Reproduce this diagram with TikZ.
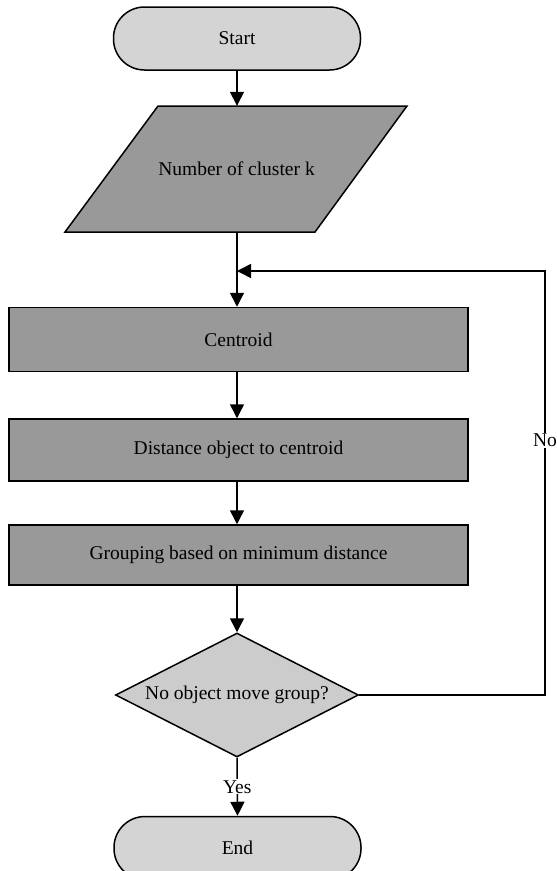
\documentclass[tikz,border=0pt]{standalone}
\usepackage{fontspec}
\setmainfont{Liberation Serif}
\usetikzlibrary{arrows.meta,shapes.geometric}
\definecolor{termgray}{gray}{0.83}
\definecolor{boxgray}{gray}{0.60}
\definecolor{decgray}{gray}{0.80}
\tikzset{
  terminal/.style={draw, line width=1.5pt, fill=termgray, rounded corners=31pt,
    minimum width=247pt, minimum height=63pt, inner sep=0pt},
  iofill/.style={draw, line width=1.5pt, fill=boxgray},
  procbox/.style={draw, line width=1.5pt, fill=boxgray, minimum width=459pt, inner sep=0pt},
  decision/.style={draw, line width=1.5pt, fill=decgray, shape=diamond, aspect=2,
    minimum width=243pt, minimum height=124pt, inner sep=0pt},
  flow/.style={line width=1.5pt, -{Triangle[width=14pt,length=14pt]}},
  lbl/.style={fill=white, inner sep=1pt}
}
\begin{document}
\begin{tikzpicture}[x=1pt, y=-1pt, font=\fontsize{19.5}{22}\selectfont]
  \useasboundingbox (0,0) rectangle (557,871);
  \node[terminal] (start) at (237,38.5) {Start};
  % input parallelogram
  \draw[iofill] (158,106) -- (407,106) -- (315,232) -- (65,232) -- cycle;
  \node[minimum height=126pt, inner sep=0pt] (input) at (236.5,169) {Number of cluster k};
  \node[procbox, minimum height=64pt] (centroid) at (238.5,339.5) {Centroid};
  \node[procbox, minimum height=62pt] (dist) at (238.5,450) {Distance object to centroid};
  \node[procbox, minimum height=60pt] (group) at (238.5,555) {Grouping based on minimum distance};
  \node[decision] (check) at (237,695) {No object move group?};
  \node[terminal] (end) at (237.5,848) {End};
  % loop
  \coordinate (join) at (237,271);
  \coordinate (corner top) at (545,271);
  \coordinate (corner bottom) at (545,695);
  % connectors
  \draw[flow] (start.south -| join) -- (input.north -| join);
  \draw[line width=1.5pt] (input.south -| join) -- (join);
  \draw[flow] (join) -- (centroid.north -| join);
  \draw[flow] (centroid.south -| join) -- (dist.north -| join);
  \draw[flow] (dist.south -| join) -- (group.north -| join);
  \draw[flow] (group.south -| join) -- (check.north);
  \draw[flow] (check.east) -- (corner bottom) -- node[lbl, pos=0.6] (nolbl) {No} (corner top) -- (join);
  \draw[flow] (check.south) -- node[lbl, pos=0.5] (yeslbl) {Yes} (end.north);
\end{tikzpicture}
\end{document}
